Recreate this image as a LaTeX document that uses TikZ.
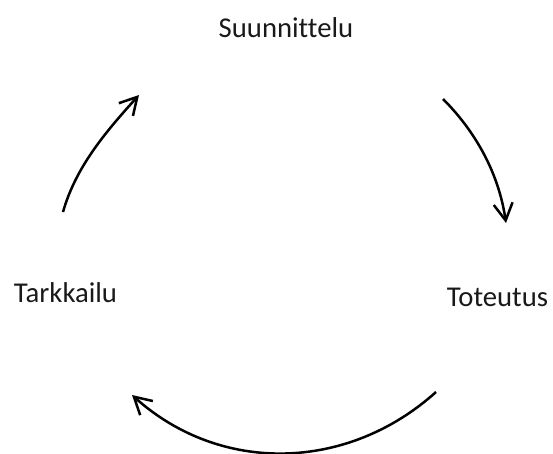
\documentclass[tikz,border=0pt]{standalone}
\usepackage{fontspec}
\setmainfont{Carlito}[Ligatures=NoCommon]
\usetikzlibrary{arrows.meta}
\begin{document}
\begin{tikzpicture}[x=1pt,y=-1pt,
  label/.style={inner sep=0pt, anchor=base, font=\fontsize{28.7}{34}\selectfont, text=black!90},
  cyc/.style={line width=2.5pt, -{Straight Barb[length=17pt,width=19pt,line width=2.5pt]}}]
\useasboundingbox (0,0) rectangle (553,453);
\node[label] (s) at (286,37) {Suunnittelu};
\node[label] (t) at (497.5,306) {Toteutus};
\node[label] (k) at (65.5,302) {Tarkkailu};
\coordinate (a1s) at (443,99);
\coordinate (a1e) at (506,223);
\coordinate (a2s) at (436,392);
\coordinate (a2e) at (132,395);
\coordinate (a3s) at (63,212);
\coordinate (a3e) at (139,95);
\draw[cyc] (a1s) .. controls (477,133) and (499,175) .. (a1e);
\draw[cyc] (a2s) .. controls (347.6,471.6) and (220.4,474.6) .. (a2e);
\draw[cyc] (a3s) .. controls (76,166) and (107,130.5) .. (a3e);
\end{tikzpicture}
\end{document}
